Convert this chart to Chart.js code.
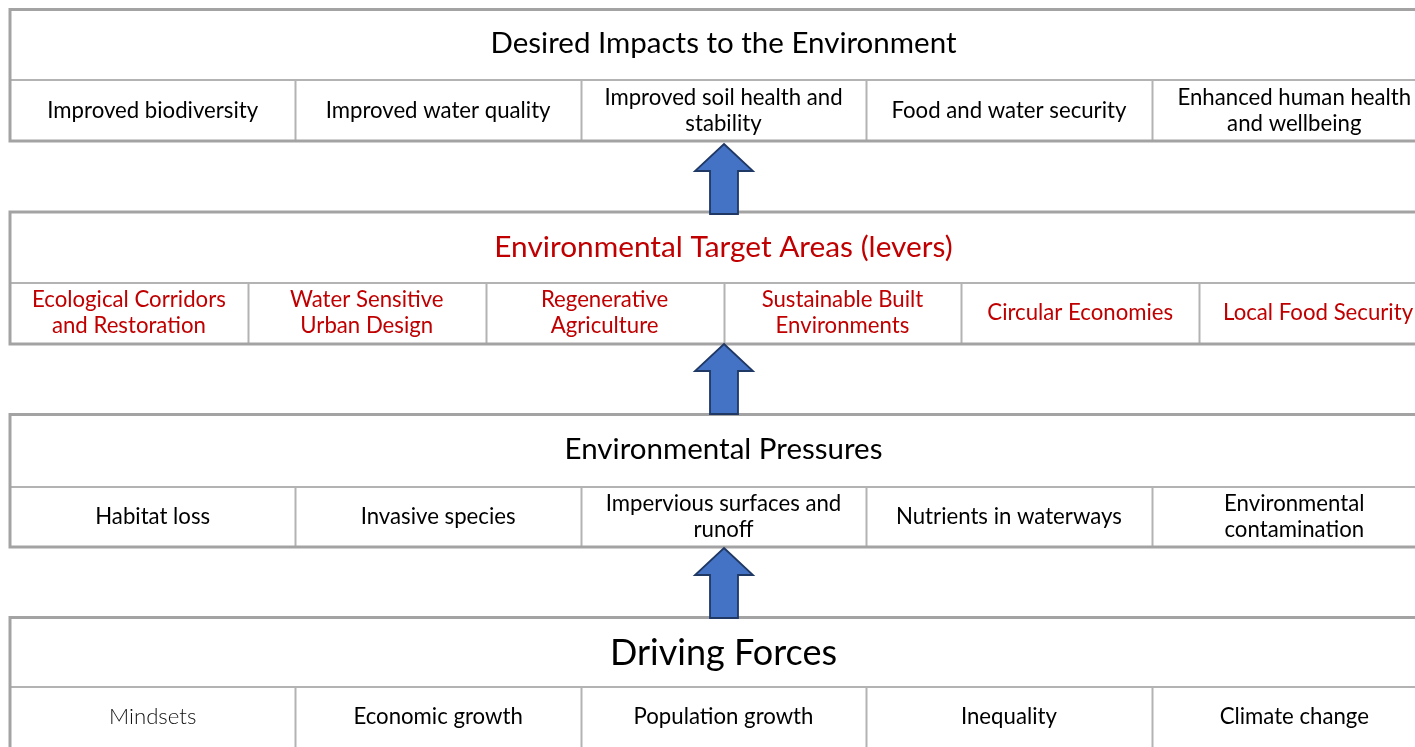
<!DOCTYPE html>
<html>
<head>
<meta charset="utf-8">
<script src="https://cdn.jsdelivr.net/npm/chart.js@4"></script>
<style>
  html, body { margin: 0; padding: 0; background: #fff; }
  #wrap { width: 1415px; height: 747px; }
</style>
</head>
<body>
<div id="wrap"><canvas id="diagram"></canvas></div>
<script>
// level titles, top to bottom
const levelTitles = [
    'Desired Impacts to the Environment',
    'Environmental Target Areas (levers)',
    'Environmental Pressures',
    'Driving Forces'
];

// cells of each level (each label is a list of lines)
const impacts = [
    ['Improved biodiversity'],
    ['Improved water quality'],
    ['Improved soil health and', 'stability'],
    ['Food and water security'],
    ['Enhanced human health', 'and wellbeing']
];
const levers = [
    ['Ecological Corridors', 'and Restoration'],
    ['Water Sensitive', 'Urban Design'],
    ['Regenerative', 'Agriculture'],
    ['Sustainable Built', 'Environments'],
    ['Circular Economies'],
    ['Local Food Security']
];
const pressures = [
    ['Habitat loss'],
    ['Invasive species'],
    ['Impervious surfaces and', 'runoff'],
    ['Nutrients in waterways'],
    ['Environmental', 'contamination']
];
const drivers = [
    ['Mindsets'],
    ['Economic growth'],
    ['Population growth'],
    ['Inequality'],
    ['Climate change']
];

const levelCells = [impacts, levers, pressures, drivers];

// layout of the boxes, in the chart's value units
const boxLeft = 10, boxRight = 1437;
const rows = [
    { top: 9.5, mid: 80, bottom: 141, titleY: 43, cellY: 111 },
    { top: 212, mid: 283, bottom: 344, titleY: 247, cellY: 313 },
    { top: 414.5, mid: 487, bottom: 547, titleY: 449, cellY: 517 },
    { top: 617.5, mid: 687, bottom: 770, titleY: 653, cellY: 717 }
];
const titleStyle = [
    { size: 29.5, color: '#000000' },
    { size: 29.8, color: '#C00000' },
    { size: 29.5, color: '#000000' },
    { size: 36, color: '#000000' }
];
const cellColor = ['#000000', '#C00000', '#000000', '#000000'];
const arrows = [
    { tip: 144, head: 171, base: 214 },
    { tip: 344, head: 371, base: 414 },
    { tip: 548, head: 575, base: 618 }
];
const arrowX = 724;

const diagramPlugin = {
    id: 'diagram',
    afterDraw(chart) {
        const ctx = chart.ctx;
        const xs = chart.scales.x;
        const ys = chart.scales.y;
        const px = v => xs.getPixelForValue(v);
        const py = v => ys.getPixelForValue(v);
        const left = px(boxLeft), right = px(boxRight);

        ctx.save();
        ctx.textAlign = 'center';
        ctx.textBaseline = 'middle';

        rows.forEach((r, i) => {
            const top = py(r.top), mid = py(r.mid), bottom = py(r.bottom);
            const cells = levelCells[i];
            const w = (right - left) / cells.length;

            ctx.fillStyle = '#ffffff';
            ctx.fillRect(left, top, right - left, bottom - top);

            // inner lines
            ctx.strokeStyle = '#b3b3b3';
            ctx.lineWidth = 2;
            ctx.beginPath();
            ctx.moveTo(left, mid);
            ctx.lineTo(right, mid);
            for (let j = 1; j < cells.length; j++) {
                const xx = Math.round(left + w * j) + 0.5;
                ctx.moveTo(xx, mid);
                ctx.lineTo(xx, bottom);
            }
            ctx.stroke();

            // outer frame
            ctx.strokeStyle = '#a3a3a3';
            ctx.lineWidth = 3;
            ctx.strokeRect(left, top, right - left, bottom - top);

            // title
            const ts = titleStyle[i];
            ctx.fillStyle = ts.color;
            ctx.font = ts.size + 'px Lato, "Open Sans", sans-serif';
            ctx.fillText(levelTitles[i], (left + right) / 2, py(r.titleY));

            // cells
            const lineH = 26.5;
            cells.forEach((lines, j) => {
                const cx = left + w * (j + 0.5);
                const light = (i === 3 && j === 0);
                ctx.font = (light ? '300 ' : '') + '22.2px Lato, "Open Sans", sans-serif';
                ctx.fillStyle = light ? '#111111' : cellColor[i];
                const y0 = py(r.cellY) - (lines.length - 1) * lineH / 2;
                lines.forEach((t, k) => ctx.fillText(t, cx, y0 + k * lineH));
            });
        });

        // arrows between levels
        arrows.forEach(a => {
            const cx = px(arrowX);
            ctx.beginPath();
            ctx.moveTo(cx, py(a.tip));
            ctx.lineTo(px(arrowX + 29), py(a.head));
            ctx.lineTo(px(arrowX + 14), py(a.head));
            ctx.lineTo(px(arrowX + 14), py(a.base));
            ctx.lineTo(px(arrowX - 14), py(a.base));
            ctx.lineTo(px(arrowX - 14), py(a.head));
            ctx.lineTo(px(arrowX - 29), py(a.head));
            ctx.closePath();
            ctx.fillStyle = '#4472C4';
            ctx.fill();
            ctx.strokeStyle = '#1F3864';
            ctx.lineWidth = 1.8;
            ctx.lineJoin = 'miter';
            ctx.stroke();
        });

        ctx.restore();
    }
};

new Chart(document.getElementById('diagram'), {
    type: 'scatter',
    data: { datasets: [{ data: [], pointRadius: 0 }] },
    options: {
        responsive: true,
        maintainAspectRatio: false,
        animation: false,
        layout: { padding: 0 },
        plugins: {
            legend: { display: false },
            tooltip: { enabled: false }
        },
        scales: {
            x: { type: 'linear', min: 0, max: 1415, display: false },
            y: { type: 'linear', min: 0, max: 747, reverse: true, display: false }
        }
    },
    plugins: [diagramPlugin]
});
</script>
</body>
</html>
